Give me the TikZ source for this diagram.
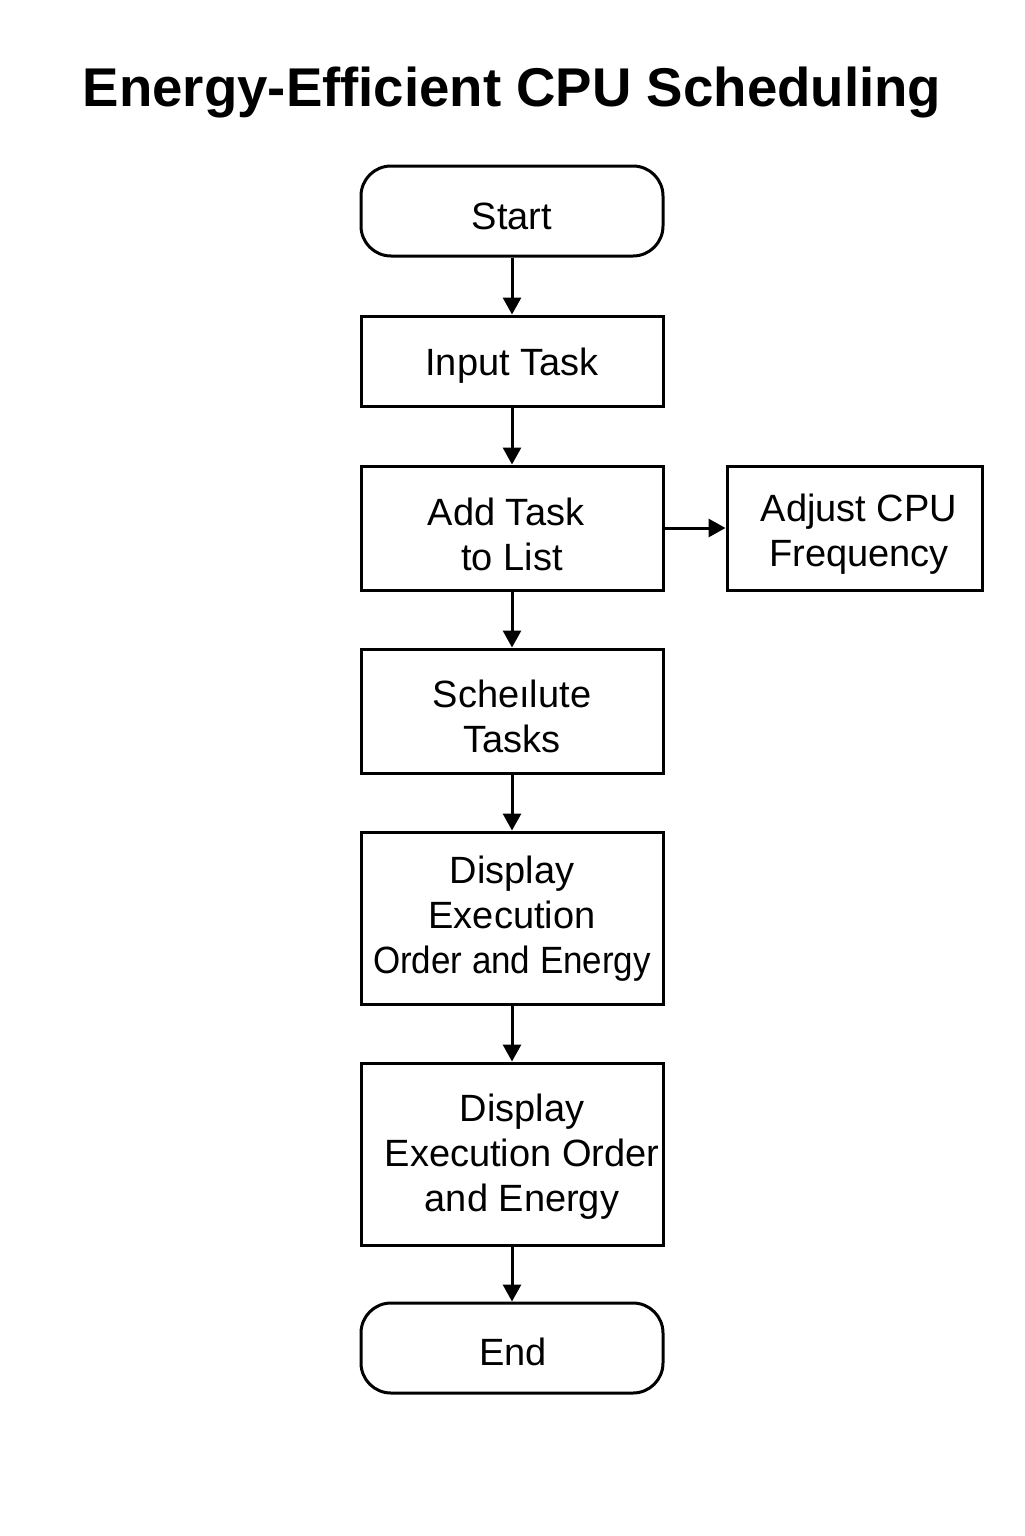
\documentclass[tikz,border=0pt]{standalone}
\usepackage{fontspec}
\setmainfont{Liberation Sans}
\usetikzlibrary{arrows.meta}
\begin{document}
\begin{tikzpicture}[x=0.5pt,y=-0.5pt,
  box/.style={draw=black, line width=1.5pt, fill=white, inner sep=0pt, minimum width=151pt},
  term/.style={box, rounded corners=15pt, minimum height=45pt},
  txt/.style={align=center, font=\fontsize{19}{22.5}\selectfont, inner sep=0pt},
  arr/.style={line width=1.5pt, -{Triangle[length=8.5pt,width=9pt]}}]
\useasboundingbox[fill=white] (0,0) rectangle (1024,1536);
\node[font=\fontsize{27.3}{32}\bfseries\selectfont, inner sep=0pt] (title) at (512,93) {Energy-Efficient CPU Scheduling};

\node[term] (start) at (512,211) {};
\node[txt] (tstart) at (512,216) {Start};
\node[box, minimum height=45pt] (input) at (512,361) {};
\node[txt] (tinput) at (512,366) {Input Task};
\node[box, minimum height=62pt] (add) at (512,528) {};
\node[txt] (tadd) at (506,534) {Add Task\\\hspace*{6pt}to List};
\node[box, minimum height=62pt, minimum width=127.5pt] (adjust) at (854.5,528) {};
\node[txt] (tadjust) at (859,534) {Adjust CPU\\Frequency};
\node[box, minimum height=62pt] (sched) at (512,711) {};
\node[txt] (tsched) at (512,716) {Scheılute\\Tasks};
\node[box, minimum height=86pt] (disp1) at (512,918) {};
\node[txt] (tdisp1) at (512,919) {Display\\Execution\\\scalebox{0.92}[1]{Order and Energy}};
\node[box, minimum height=91pt] (disp2) at (512,1154) {};
\node[txt] (tdisp2) at (522,1157) {Display\\Execution Order\\and Energy};
\node[term] (end) at (512,1348) {};
\node[txt] (tend) at (513,1352) {End};

\draw[arr] (start) -- (input);
\draw[arr] (input) -- (add);
\draw[arr] (add) -- (adjust);
\draw[arr] (add) -- (sched);
\draw[arr] (sched) -- (disp1);
\draw[arr] (disp1) -- (disp2);
\draw[arr] (disp2) -- (end);
\end{tikzpicture}
\end{document}
